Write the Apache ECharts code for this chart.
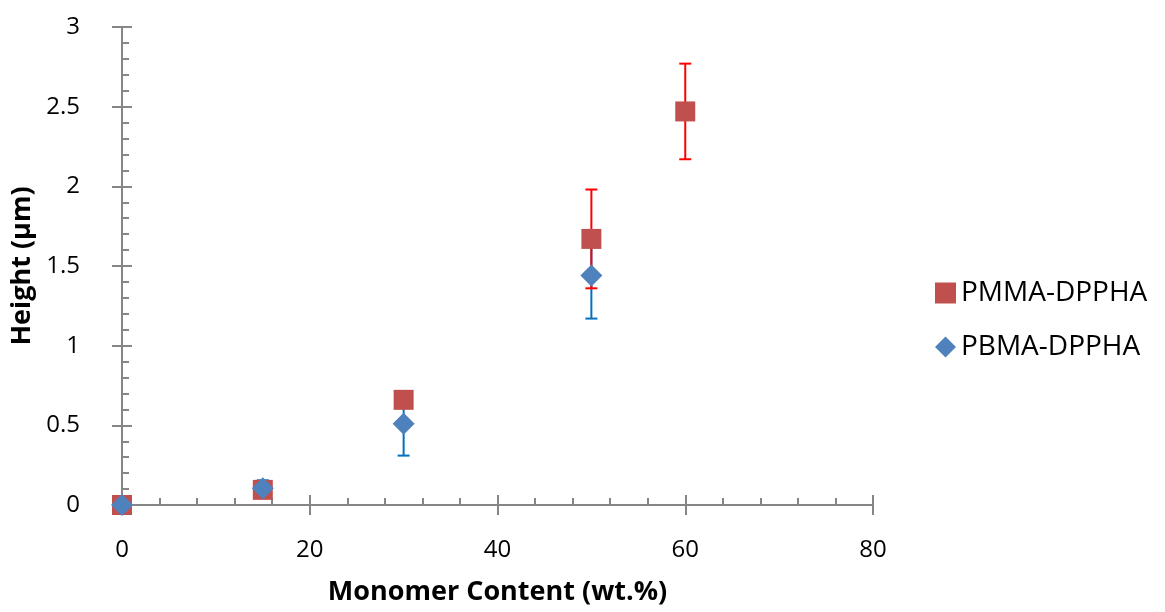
<!DOCTYPE html>
<html>
  <head>
    <meta charset="utf-8" />
    <title>Height vs monomer content</title>
    <script src="https://cdn.jsdelivr.net/npm/echarts@6/dist/echarts.min.js"></script>
  </head>
  <body style="margin:0">
    <style>
      html, body { margin: 0; background: #fff; }
      #main { width: 1165px; height: 612px; }
    </style>
    <div id="main"></div>
    <script type="text/javascript">
      // values
      var seriesNames = ['PMMA-DPPHA', 'PBMA-DPPHA'];
      var pmmaX = [0, 15, 30, 50, 60];
      var pmmaY = [0, 0.095, 0.66, 1.67, 2.47];
      var pmmaErr = [0, 0, 0, 0.31, 0.3];
      var pbmaX = [0, 15, 30, 50];
      var pbmaY = [0, 0.105, 0.51, 1.44];
      var pbmaErr = [0, 0.05, 0.2, 0.27];

      var font = '"Open Sans", "Liberation Sans", sans-serif';
      var axisGray = '#868686';

      var myChart = echarts.init(document.getElementById('main'));

      function pairs(xs, ys) {
        return xs.map((x, i) => [x, ys[i]]);
      }
      function errData(xs, ys, es) {
        return xs.map((x, i) => [x, ys[i] - es[i], ys[i] + es[i]]);
      }
      function errRender(color) {
        return function (params, api) {
          var lo = api.coord([api.value(0), api.value(1)]);
          var hi = api.coord([api.value(0), api.value(2)]);
          if (Math.abs(lo[1] - hi[1]) < 1) return;
          var cap = 6;
          var st = { stroke: color, lineWidth: 2 };
          return {
            type: 'group',
            children: [
              { type: 'line', shape: { x1: lo[0], y1: lo[1], x2: hi[0], y2: hi[1] }, style: st },
              { type: 'line', shape: { x1: lo[0] - cap, y1: lo[1], x2: lo[0] + cap, y2: lo[1] }, style: st },
              { type: 'line', shape: { x1: hi[0] - cap, y1: hi[1], x2: hi[0] + cap, y2: hi[1] }, style: st }
            ]
          };
        };
      }

      var option = {
        animation: false,
        textStyle: { fontFamily: font },
        grid: { left: 122, right: 292, top: 27, bottom: 107, outerBoundsMode: 'none', containLabel: false },
        legend: {
          orient: 'vertical',
          left: 930,
          top: 273,
          itemGap: 24,
          itemWidth: 21,
          itemHeight: 21,
          textStyle: { fontSize: 28, color: '#000', fontFamily: font, lineHeight: 30 },
          data: [
            { name: seriesNames[0], icon: 'rect' },
            { name: seriesNames[1], icon: 'diamond' }
          ]
        },
        xAxis: [{
          type: 'value',
          min: 0, max: 80, interval: 20,
          name: 'Monomer Content (wt.%)',
          nameLocation: 'middle',
          nameGap: 74,
          nameTextStyle: { fontSize: 27, fontWeight: 'bold', color: '#000' },
          axisLine: { lineStyle: { color: axisGray, width: 2 } },
          axisTick: { length: 10, lineStyle: { color: axisGray, width: 2 } },
          axisLabel: { fontSize: 24, color: '#000', margin: 33 },
          splitLine: { show: false }
        }, {
          type: 'value',
          min: 0, max: 80, interval: 20,
          position: 'bottom',
          axisLine: { show: false },
          axisTick: { inside: true, length: 10, lineStyle: { color: axisGray, width: 2 } },
          minorTick: { show: true, splitNumber: 5, length: 7, lineStyle: { color: axisGray, width: 2 } },
          axisLabel: { show: false },
          splitLine: { show: false }
        }],
        yAxis: [{
          type: 'value',
          min: 0, max: 3, interval: 0.5,
          name: 'Height (µm)',
          nameLocation: 'middle',
          nameGap: 83,
          nameTextStyle: { fontSize: 27, fontWeight: 'bold', color: '#000' },
          axisLine: { lineStyle: { color: axisGray, width: 2 } },
          axisTick: { length: 10, lineStyle: { color: axisGray, width: 2 } },
          axisLabel: { fontSize: 24, color: '#000', margin: 42 },
          splitLine: { show: false }
        }, {
          type: 'value',
          min: 0, max: 3, interval: 0.5,
          position: 'left',
          axisLine: { show: false },
          axisTick: { inside: true, length: 10, lineStyle: { color: axisGray, width: 2 } },
          minorTick: { show: true, splitNumber: 5, length: 7, lineStyle: { color: axisGray, width: 2 } },
          axisLabel: { show: false },
          splitLine: { show: false }
        }],
        series: [
          {
            name: 'pbma-err',
            type: 'custom',
            z: 1,
            silent: true,
            renderItem: errRender('#0070c0'),
            data: errData(pbmaX, pbmaY, pbmaErr)
          },
          {
            name: 'pmma-err',
            type: 'custom',
            z: 2,
            silent: true,
            renderItem: errRender('#ff0000'),
            data: errData(pmmaX, pmmaY, pmmaErr)
          },
          {
            name: seriesNames[0],
            type: 'scatter',
            z: 3,
            symbol: 'rect',
            symbolSize: 20,
            itemStyle: { color: '#c0504d', opacity: 1 },
            data: pairs(pmmaX, pmmaY)
          },
          {
            name: seriesNames[1],
            type: 'scatter',
            z: 4,
            symbol: 'diamond',
            symbolSize: 22,
            itemStyle: { color: '#4f81bd', opacity: 1 },
            data: pairs(pbmaX, pbmaY)
          }
        ]
      };

      myChart.setOption(option);
    </script>
  </body>
</html>
